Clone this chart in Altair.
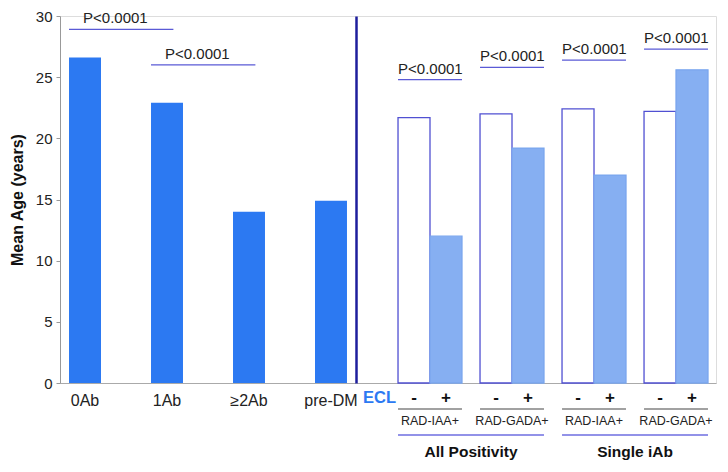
import altair as alt
import pandas as pd

# ---------------- data ----------------
left_groups = ["0Ab", "1Ab", "≥2Ab", "pre-DM"]
left_ages = [26.6, 22.9, 14.0, 14.9]

pair_ids = ["AP-IAA", "AP-GADA", "SI-IAA", "SI-GADA"]
pair_labels = ["RAD-IAA+", "RAD-GADA+", "RAD-IAA+", "RAD-GADA+"]
ecl_signs = ["-", "+"]
ecl_neg_ages = [21.7, 22.0, 22.4, 22.2]
ecl_pos_ages = [12.0, 19.2, 17.0, 25.6]

section_labels = ["All Positivity", "Single iAb"]
section_starts = ["AP-IAA", "SI-IAA"]
section_ends = ["AP-GADA", "SI-GADA"]

p_text = "P<0.0001"
left_p_starts = ["0Ab", "1Ab"]
left_p_ends = ["1Ab", "≥2Ab"]
left_p_levels = [28.9, 26.0]
right_p_levels = [24.8, 25.8, 26.4, 27.3]

# ---------------- style ----------------
FONT = "Liberation Sans"
H = 367
W1 = 296
W2 = 360
BLUE = "#2C79F2"
PLINE = "#5A5AD6"
ys = alt.Scale(domain=[0, 30], nice=False, zero=True)
YT = "Mean Age (years)"

left_df = pd.DataFrame({"group": left_groups, "age": left_ages})
left_p_df = pd.DataFrame({"start": left_p_starts, "end": left_p_ends,
                          "level": left_p_levels, "label": [p_text] * 2})

rows = []
for g, n, p in zip(pair_ids, ecl_neg_ages, ecl_pos_ages):
    rows.append({"group": g, "sign": ecl_signs[0], "age": n})
    rows.append({"group": g, "sign": ecl_signs[1], "age": p})
right_df = pd.DataFrame(rows)
pair_df = pd.DataFrame({"group": pair_ids, "pair_label": pair_labels,
                        "level": right_p_levels, "label": [p_text] * 4})
sec_df = pd.DataFrame({"start": section_starts, "end": section_ends,
                       "label": section_labels})
ecl_df = pd.DataFrame({"group": [pair_ids[0]], "label": ["ECL"]})

# ---------------- left panel ----------------
xs_left = alt.Scale(domain=left_groups, paddingInner=0.61, paddingOuter=0.11)
x_axis_left = alt.Axis(labelAngle=0, ticks=False, domainColor="#aaaaaa",
                       labelFontSize=16, labelColor="#222222", labelPadding=9,
                       labelFont=FONT, grid=False)
y_axis_left = alt.Axis(values=[0, 5, 10, 15, 20, 25, 30], tickSize=4,
                       tickColor="#999999", domainColor="#999999",
                       labelFontSize=15, labelColor="#222222", labelPadding=4,
                       labelFont=FONT, titleFont=FONT, titleFontSize=16,
                       titleFontWeight="bold", titleColor="#111111",
                       titlePadding=10, grid=False)

left_bars = alt.Chart(left_df).mark_bar(color=BLUE).encode(
    x=alt.X("group:N", scale=xs_left, axis=x_axis_left, title=None),
    y=alt.Y("age:Q", scale=ys, axis=y_axis_left, title=YT),
)
left_plines = alt.Chart(left_p_df).mark_rule(color=PLINE, strokeWidth=1.3).encode(
    x=alt.X("start:N", scale=xs_left, axis=x_axis_left, title=None, bandPosition=0),
    x2=alt.X2("end", bandPosition=0.7),
    y=alt.Y("level:Q", scale=ys, axis=y_axis_left, title=YT),
)
left_ptext = alt.Chart(left_p_df).mark_text(
    align="left", baseline="bottom", dx=14, dy=-3, fontSize=15, font=FONT,
    color="#222222").encode(
    x=alt.X("start:N", scale=xs_left, axis=x_axis_left, title=None, bandPosition=0),
    y=alt.Y("level:Q", scale=ys, axis=y_axis_left, title=YT),
    text="label:N",
)
left = alt.layer(left_bars, left_plines, left_ptext).properties(width=W1, height=H)

# ---------------- right panel ----------------
xs_right = alt.Scale(domain=pair_ids, paddingInner=0.22, paddingOuter=0.305, align=0.84)
x_axis_right = alt.Axis(labels=False, ticks=False, domainColor="#aaaaaa", grid=False)
y_axis_right = alt.Axis(labels=False, ticks=False, domainColor="#1E1E9C",
                        domainWidth=2.5, grid=False)
xoff = alt.XOffset("sign:N", scale=alt.Scale(domain=ecl_signs, paddingInner=0, paddingOuter=0))


def rx(field, **kw):
    return alt.X(field, scale=xs_right, axis=x_axis_right, title=None, **kw)


def ry(field):
    return alt.Y(field, scale=ys, axis=y_axis_right, title=None)


right_bars = alt.Chart(right_df).mark_bar(strokeWidth=1.3).encode(
    x=rx("group:N"),
    xOffset=xoff,
    y=ry("age:Q"),
    fill=alt.Fill("sign:N", scale=alt.Scale(domain=ecl_signs, range=["#ffffff", "#86AFF2"]), legend=None),
    stroke=alt.Stroke("sign:N", scale=alt.Scale(domain=ecl_signs, range=["#5050D2", "#7AA6EE"]), legend=None),
)
sign_text = alt.Chart(right_df).mark_text(
    fontSize=17, fontWeight="bold", font=FONT, color="#111111").encode(
    x=rx("group:N"), xOffset=xoff, y=alt.value(H + 15), text="sign:N")
pair_under = alt.Chart(pair_df).mark_rule(color="#444444", strokeWidth=1.2).encode(
    x=rx("group:N", bandPosition=0), x2=alt.X2("group", bandPosition=1),
    y=alt.value(H + 26))
pair_text = alt.Chart(pair_df).mark_text(
    fontSize=12.5, font=FONT, color="#222222").encode(
    x=rx("group:N"), y=alt.value(H + 38), text="pair_label:N")
sec_line = alt.Chart(sec_df).mark_rule(color="#6E6EE0", strokeWidth=1.3).encode(
    x=rx("start:N", bandPosition=0), x2=alt.X2("end", bandPosition=1),
    y=alt.value(H + 52))
sec_text = alt.Chart(sec_df).mark_text(
    fontSize=15.5, fontWeight="bold", font=FONT, color="#111111", dx=-9).encode(
    x=rx("end:N", bandPosition=0), y=alt.value(H + 69), text="label:N")
ecl_text = alt.Chart(ecl_df).mark_text(
    align="right", fontSize=16.5, fontWeight="bold", font=FONT, color=BLUE, dx=-2).encode(
    x=rx("group:N", bandPosition=0), y=alt.value(H + 15), text="label:N")
right_plines = alt.Chart(pair_df).mark_rule(color=PLINE, strokeWidth=1.3).encode(
    x=rx("group:N", bandPosition=0), x2=alt.X2("group", bandPosition=1),
    y=ry("level:Q"))
right_ptext = alt.Chart(pair_df).mark_text(
    align="left", baseline="bottom", dy=-3, fontSize=15, font=FONT,
    color="#222222").encode(
    x=rx("group:N", bandPosition=0), y=ry("level:Q"), text="label:N")

right = alt.layer(right_bars, sign_text, pair_under, pair_text, sec_line,
                  sec_text, ecl_text, right_plines, right_ptext).properties(width=W2, height=H)

chart = alt.hconcat(left, right, spacing=0, bounds="flush").properties(
    padding={"left": 0, "top": 0, "right": 0, "bottom": 0}
).configure_view(stroke=None).configure(font=FONT, background="white")

chart.save("out.html", embed_options={"renderer": "svg", "actions": False})
